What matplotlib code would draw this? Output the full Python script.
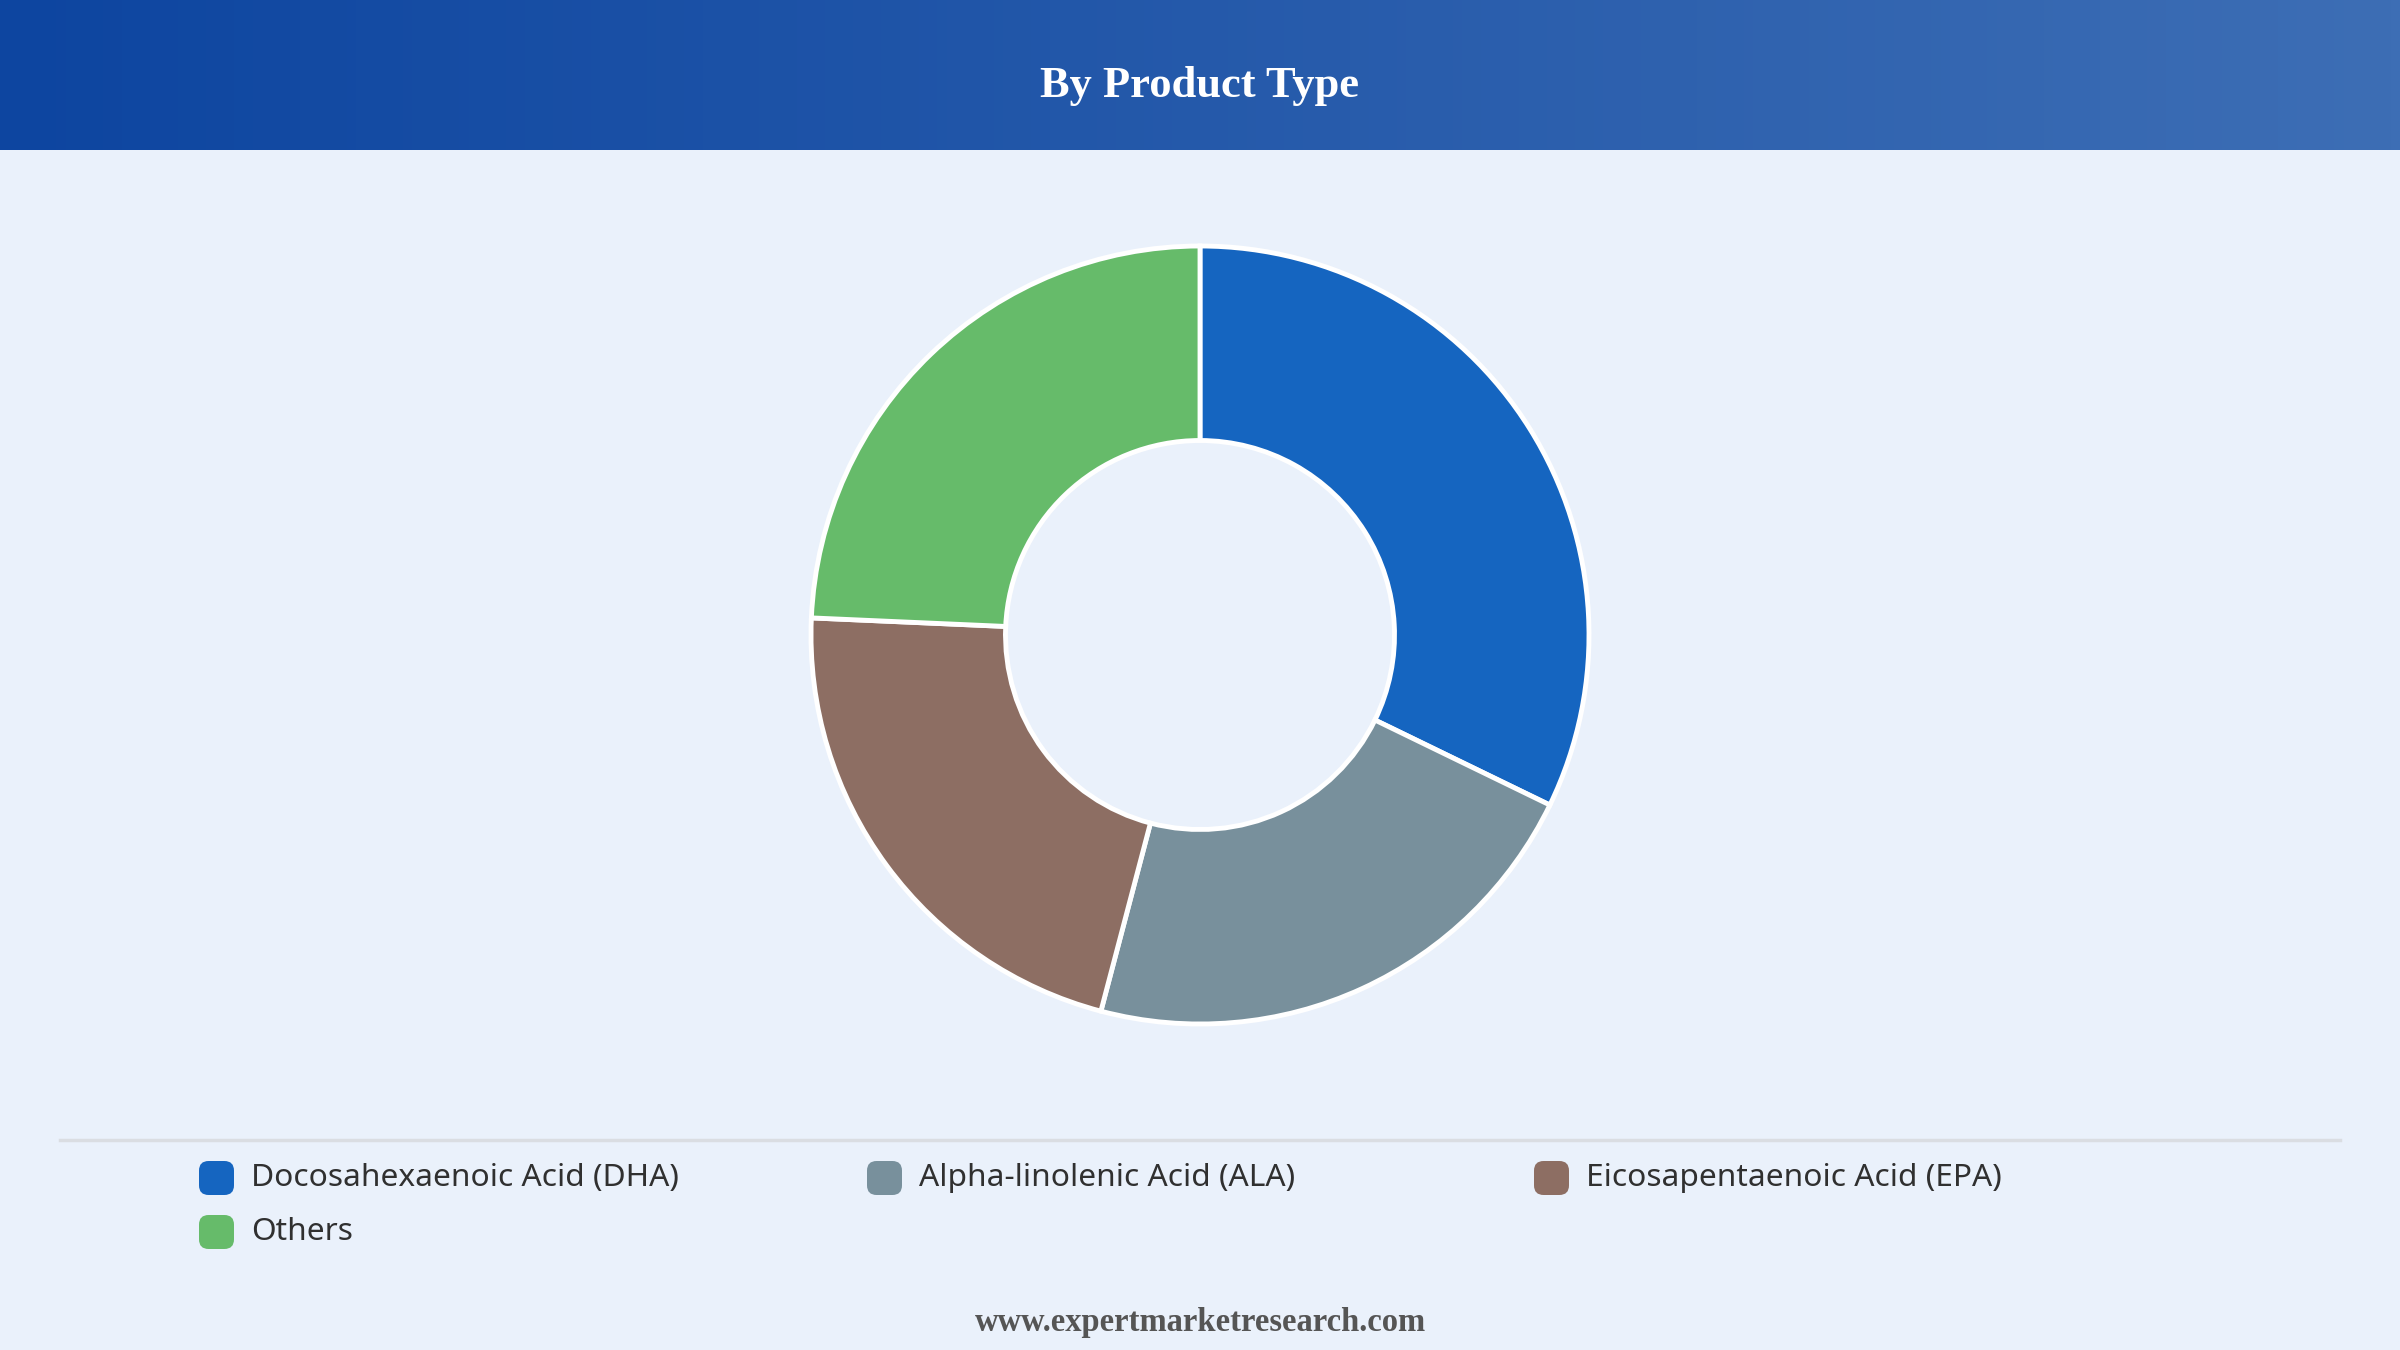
import numpy as np
import matplotlib.pyplot as plt
from matplotlib.patches import FancyBboxPatch
from matplotlib.colors import LinearSegmentedColormap

labels = ["Docosahexaenoic Acid (DHA)", "Alpha-linolenic Acid (ALA)",
          "Eicosapentaenoic Acid (EPA)", "Others"]
shares = [32.2, 21.9, 21.6, 24.3]
colors = ["#1565c0", "#78909c", "#8d6e63", "#66bb6a"]

W, H = 2400, 1350
bg = "#eaf1fb"

fig = plt.figure(figsize=(24, 13.5), dpi=100)
fig.patch.set_facecolor(bg)

# header band with gradient
hax = fig.add_axes([0, 1 - 150 / H, 1, 150 / H])
cmap = LinearSegmentedColormap.from_list("hdr", ["#0d45a0", "#3d6eb5"])
hax.imshow(np.linspace(0, 1, 256).reshape(1, -1), aspect="auto", cmap=cmap,
           extent=[0, 1, 0, 1])
hax.set_xlim(0, 1)
hax.set_ylim(0, 1)
hax.axis("off")
hax.text(0.5, 0.43, "By Product Type", ha="center", va="center", color="white",
         fontsize=32, fontweight="bold", family="Liberation Serif")

# donut
side = 800
ax = fig.add_axes([(1200 - side / 2) / W, (H - 635 - side / 2) / H, side / W, side / H])
ax.set_facecolor("none")
ax.pie(shares, colors=colors, startangle=90, counterclock=False,
       radius=389 / (side / 2),
       wedgeprops=dict(width=0.5 * 389 / (side / 2), edgecolor="white", linewidth=3.5))
ax.set_xlim(-1, 1)
ax.set_ylim(-1, 1)
ax.set_aspect("equal")
ax.axis("off")

# separator line
fig.add_artist(plt.Line2D([60 / W, 2340 / W], [1 - 1140 / H, 1 - 1140 / H],
                          color="#dadde2", linewidth=2.5))

# legend
col_x = [199, 867, 1534]
row_y = [1178, 1232]
for i, (lab, c) in enumerate(zip(labels, colors)):
    x = col_x[i % 3]
    y = row_y[i // 3]
    box = FancyBboxPatch((x / W, 1 - (y + 17) / H), 35 / W, 34 / H,
                         boxstyle="round,pad=0,rounding_size=0.004",
                         transform=fig.transFigure, facecolor=c, edgecolor="none",
                         mutation_aspect=W / H)
    fig.add_artist(box)
    fig.text((x + 52) / W, 1 - y / H, lab, ha="left", va="center",
             fontsize=22.8, color="#303030", family="Noto Sans")

fig.text(0.5, 1 - 1322 / H, "www.expertmarketresearch.com", ha="center", va="center",
         fontsize=23.5, fontweight="bold", color="#555555", family="Liberation Serif")

fig.savefig("out.png", dpi=100, facecolor=bg)
